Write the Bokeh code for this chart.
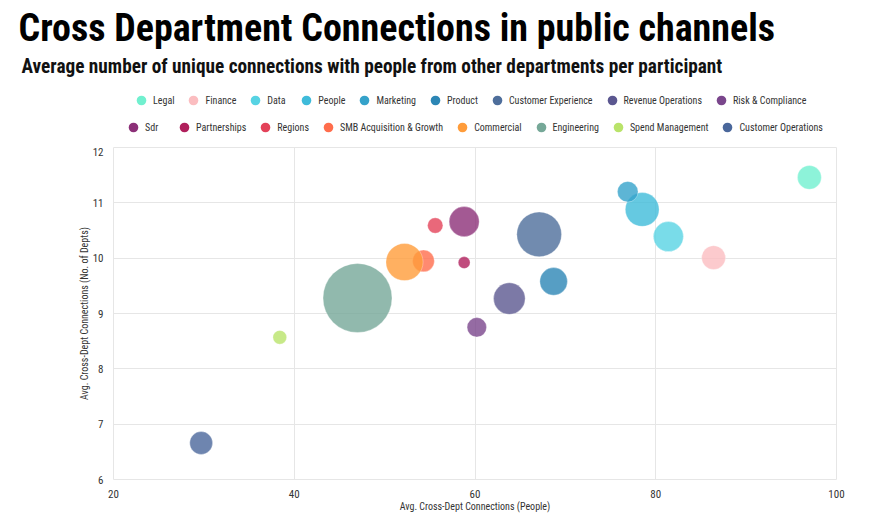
from bokeh.plotting import figure
from bokeh.layouts import column
from bokeh.models import Legend, LegendItem, Title, ColumnDataSource, FixedTicker
from bokeh.embed import file_html
from bokeh.resources import INLINE
import math

departments = ["Legal", "Finance", "Data", "People", "Marketing", "Product",
               "Customer Experience", "Revenue Operations", "Risk & Compliance",
               "Sdr", "Partnerships", "Regions", "SMB Acquisition & Growth",
               "Commercial", "Engineering", "Spend Management", "Customer Operations"]
avg_people = [97.0, 86.4, 81.4, 78.5, 76.9, 68.7, 67.1, 63.8, 60.2,
              58.8, 58.8, 55.6, 54.3, 52.2, 47.0, 38.4, 29.7]
avg_depts = [11.46, 10.01, 10.39, 10.88, 11.20, 9.58, 10.43, 9.27, 8.75,
             10.66, 9.92, 10.59, 9.95, 9.93, 9.28, 8.57, 6.66]
participants = [12, 12, 19, 24, 9, 16, 42, 21, 8, 19, 3, 5, 10, 29, 100, 4, 11]
colors = ["#71f0cf", "#fbbdc0", "#57d3e3", "#3fbbda", "#35a2ca", "#2c86b5",
          "#4e6e9b", "#5b5790", "#7a468c", "#8c3078", "#b01f5c", "#e34259",
          "#ff6d4c", "#ff9c3a", "#76a898", "#b9e36a", "#4a679b"]
x_ticks = [20, 40, 60, 80, 100]
y_ticks = [6, 7, 8, 9, 10, 11, 12]

FONT = "Roboto Condensed, DejaVu Sans Condensed, Open Sans"
W = 860

# ---------------- header (titles + legend) ----------------
header = figure(width=W, height=147, x_range=(0, 1), y_range=(0, 1),
                output_backend="svg", toolbar_location=None, title=None,
                x_axis_type=None, y_axis_type=None,
                min_border_left=113, min_border_right=W - 836,
                min_border_top=85, min_border_bottom=0,
                border_fill_color="white", background_fill_color="white")
header.outline_line_color = None
header.grid.visible = False

legend_renderers = []
for i in range(len(departments)):
    src = ColumnDataSource(dict(x=[avg_people[i]], y=[avg_depts[i]]))
    r = header.scatter("x", "y", size=0, source=src, fill_color=colors[i],
                       line_color=None)
    legend_renderers.append(r)

def make_legend(idx, loc):
    items = [LegendItem(label=departments[i], renderers=[legend_renderers[i]]) for i in idx]
    return Legend(items=items, orientation="horizontal", location=loc,
                  border_line_color=None, background_fill_alpha=0, margin=0,
                  padding=0, spacing=7, glyph_width=24, glyph_height=26,
                  label_standoff=-2, label_text_font=FONT, label_text_font_size="10px",
                  label_text_color="#333333", label_height=20)

header.add_layout(make_legend(range(0, 9), (16, 34)), "center")
header.add_layout(make_legend(range(9, 17), (8, 7)), "center")

sub = Title(text="Average number of unique connections with people from other departments per participant",
            text_font=FONT, text_font_size="19.3px", text_font_style="bold",
            text_color="#111111", align="left", offset=-92, standoff=16)
main = Title(text="Cross Department Connections in public channels",
             text_font=FONT, text_font_size="38px", text_font_style="bold",
             text_color="#000000", align="left", offset=-95, standoff=-10)
header.add_layout(sub, "above")
header.add_layout(main, "above")

# ---------------- bubble chart ----------------
p = figure(width=W, height=367, x_range=(20, 100), y_range=(6, 12),
           output_backend="svg", toolbar_location=None, title=None,
           min_border_left=113, min_border_right=W - 836, min_border_top=0,
           min_border_bottom=35, background_fill_color="white",
           border_fill_color="white")
p.outline_line_color = "#e6e6e6"

for i in range(len(departments)):
    src = ColumnDataSource(dict(x=[avg_people[i]], y=[avg_depts[i]],
                                s=[2 * 3.45 * math.sqrt(participants[i])]))
    p.scatter("x", "y", size="s", source=src, fill_color=colors[i],
              fill_alpha=0.8, line_color="white", line_alpha=0.3, line_width=1)

for ax in (p.xaxis[0], p.yaxis[0]):
    ax.axis_line_color = None
    ax.major_tick_line_color = None
    ax.minor_tick_line_color = None
    ax.major_label_text_font = FONT
    ax.major_label_text_font_size = "11px"
    ax.major_label_text_color = "#333333"
    ax.axis_label_text_font = FONT
    ax.axis_label_text_font_size = "10px"
    ax.axis_label_text_font_style = "normal"
    ax.axis_label_text_color = "#333333"
    ax.major_label_standoff = 4
    ax.axis_label_standoff = 0

p.xaxis.ticker = FixedTicker(ticks=x_ticks)
p.yaxis.ticker = FixedTicker(ticks=y_ticks)
p.xaxis.axis_label = "Avg. Cross-Dept Connections (People)"
p.yaxis.axis_label = "Avg. Cross-Dept Connections (No. of Depts)"

p.xgrid.grid_line_color = "#e6e6e6"
p.ygrid.grid_line_color = "#e6e6e6"

layout = column(header, p, spacing=0)
open("out.html", "w").write(file_html(layout, INLINE))
